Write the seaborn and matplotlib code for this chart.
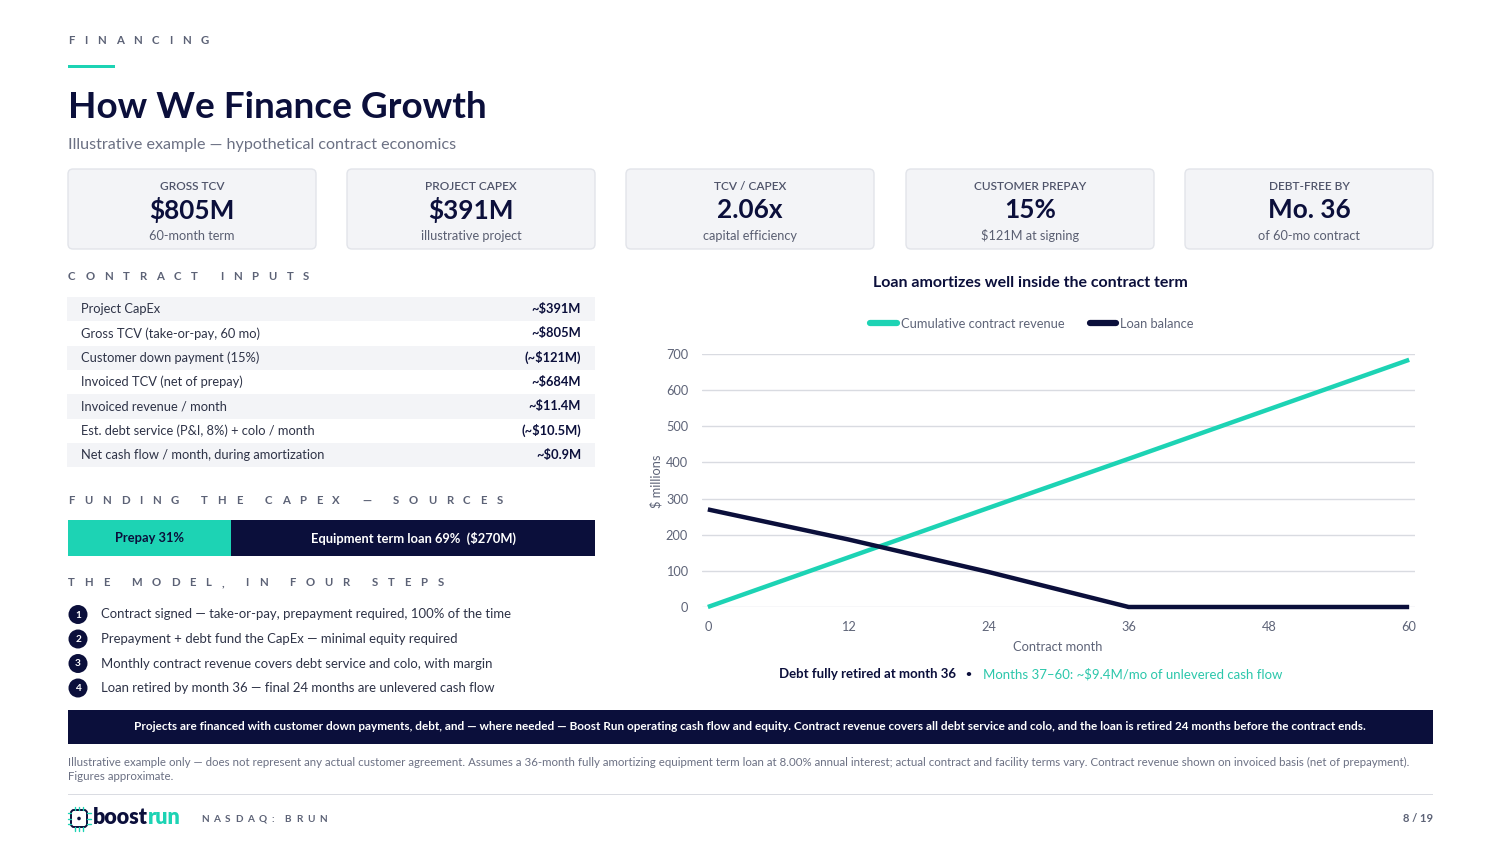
import numpy as np
import pandas as pd
import matplotlib
matplotlib.use("Agg")
import matplotlib.pyplot as plt
import seaborn as sns
from matplotlib.patches import FancyBboxPatch, Rectangle, Circle
from matplotlib.lines import Line2D
from matplotlib.font_manager import FontProperties
from matplotlib.transforms import IdentityTransform

# ---------------- data ----------------
months = [0, 12, 24, 36, 48, 60]
cum_revenue = [0, 137, 274, 410, 547, 684]
loan_balance = [270, 187, 97, 0, 0, 0]
series_names = ["Cumulative contract revenue", "Loan balance"]
y_ticks = [0, 100, 200, 300, 400, 500, 600, 700]
x_ticks = [0, 12, 24, 36, 48, 60]

kpi_labels = ["GROSS TCV", "PROJECT CAPEX", "TCV / CAPEX", "CUSTOMER PREPAY", "DEBT-FREE BY"]
kpi_values = ["$805M", "$391M", "2.06x", "15%", "Mo. 36"]
kpi_subs = ["60-month term", "illustrative project", "capital efficiency", "$121M at signing", "of 60-mo contract"]

input_labels = ["Project CapEx", "Gross TCV (take-or-pay, 60 mo)", "Customer down payment (15%)",
                "Invoiced TCV (net of prepay)", "Invoiced revenue / month",
                "Est. debt service (P&I, 8%) + colo / month", "Net cash flow / month, during amortization"]
input_values = ["~$391M", "~$805M", "(~$121M)", "~$684M", "~$11.4M", "(~$10.5M)", "~$0.9M"]

funding_labels = ["Prepay 31%", "Equipment term loan 69%  ($270M)"]
funding_shares = [31, 69]

steps = ["Contract signed \u2014 take-or-pay, prepayment required, 100% of the time",
         "Prepayment + debt fund the CapEx \u2014 minimal equity required",
         "Monthly contract revenue covers debt service and colo, with margin",
         "Loan retired by month 36 \u2014 final 24 months are unlevered cash flow"]

# ---------------- style ----------------
W, H = 1500, 843
sns.set_theme(style="white")
FAM = ["Lato", "DejaVu Sans"]
plt.rcParams['font.family'] = FAM

NAVY = "#0B0F3B"
TEAL = "#1DD3B4"
GRAY = "#5C6276"
TXT = "#2E3347"
CARD = "#F3F4F7"

fig = plt.figure(figsize=(15, 8.43), dpi=100)
renderer = fig.canvas.get_renderer()
ID = IdentityTransform()

def fx(x): return x / W
def fy(y): return 1 - y / H

def txt(x, y, s, size, color=TXT, weight="normal", ha="left", va="center", **kw):
    return fig.text(fx(x), fy(y), s, fontsize=size, color=color, fontweight=weight,
                    ha=ha, va=va, family=FAM, **kw)

def tracked(x, y, s, size, color=GRAY, track=10, weight="bold", space=0.2):
    fp = FontProperties(family=FAM, size=size, weight=weight)
    cx = x
    for ch in s:
        if ch != " ":
            fig.text(fx(cx), fy(y), ch, fontproperties=fp, color=color, va="center", ha="left")
            w, _, _ = renderer.get_text_width_height_descent(ch, fp, ismath=False)
        else:
            w = size * 1.389 * space
        cx += w + track

def rect(x0, y0, x1, y1, color, ec="none", lw=0, r=0):
    if r:
        p = FancyBboxPatch((x0, H - y1), x1 - x0, y1 - y0,
                           boxstyle=f"round,pad=0,rounding_size={r}",
                           fc=color, ec=ec, lw=lw, transform=ID)
    else:
        p = Rectangle((x0, H - y1), x1 - x0, y1 - y0, fc=color, ec=ec, lw=lw, transform=ID)
    fig.add_artist(p)

# ---------------- header ----------------
tracked(68, 41, "FINANCING", 8.2, GRAY, track=9.8)
rect(68, 65, 115, 68, TEAL)
txt(68, 108, "How We Finance Growth", 26.6, NAVY, "bold")
txt(68, 145, "Illustrative example \u2014 hypothetical contract economics", 11.6, "#6B7083")

# ---------------- KPI cards ----------------
card_x = [68, 347, 626, 906, 1185]
for i, cx in enumerate(card_x):
    rect(cx, 169, cx + 248, 249, CARD, ec="#E2E4EA", lw=1, r=5)
    mid = cx + 124
    txt(mid, 186, kpi_labels[i], 8.6, "#4F546A", "semibold", ha="center")
    txt(mid, 210, kpi_values[i], 18.8, NAVY, "bold", ha="center")
    txt(mid, 236, kpi_subs[i], 9.2, "#5A5F72", ha="center")

# ---------------- contract inputs ----------------
tracked(68, 277, "CONTRACT INPUTS", 8.2, GRAY, track=9.8)
row_h = 24.3
for i, (lab, val) in enumerate(zip(input_labels, input_values)):
    y0 = 297 + i * row_h
    if i % 2 == 0:
        rect(67, y0, 595, y0 + row_h, CARD)
    yc = y0 + row_h / 2
    txt(81, yc, lab, 9.3, TXT)
    txt(581, yc, val, 9.3, NAVY, "bold", ha="right")

# ---------------- funding bar ----------------
tracked(68, 501, "FUNDING THE CAPEX \u2014 SOURCES", 8.2, GRAY, track=9.8)
axb = fig.add_axes([fx(68), fy(556), fx(595) - fx(68), (556 - 520) / H])
left = 0
bar_colors = [TEAL, NAVY]
text_colors = [NAVY, "white"]
for lab, share, bc, tc in zip(funding_labels, funding_shares, bar_colors, text_colors):
    axb.barh([0], [share], left=[left], color=bc, height=1.0, edgecolor="none")
    axb.text(left + share / 2, 0, lab, ha="center", va="center", color=tc,
             fontsize=9.3, fontweight="bold", family=FAM)
    left += share
axb.set_xlim(0, 100)
axb.set_ylim(-0.5, 0.5)
axb.axis("off")

# ---------------- four steps ----------------
tracked(68, 583, "THE MODEL, IN FOUR STEPS", 8.2, GRAY, track=9.8)
for i, s in enumerate(steps):
    yc = 614.5 + i * 24.5
    fig.add_artist(Circle((78, H - yc), 9.5, fc=NAVY, ec="none", transform=ID))
    txt(78, yc + 0.5, str(i + 1), 7.2, "white", "bold", ha="center")
    txt(101, yc, s, 9.45, TXT)

# ---------------- chart ----------------
df = pd.DataFrame({
    "month": months * 2,
    "value": cum_revenue + loan_balance,
    "series": [series_names[0]] * len(months) + [series_names[1]] * len(months),
})
ax = fig.add_axes([fx(702), fy(607), fx(1415) - fx(702), (607 - 354) / H])
sns.lineplot(data=df, x="month", y="value", hue="series",
             palette={series_names[0]: TEAL, series_names[1]: NAVY},
             linewidth=3.2, ax=ax, legend=False)
for ln in ax.lines:
    ln.set_clip_on(False)
    ln.set_solid_capstyle("butt")
ax.set_xlim(-0.5, 60.5)
ax.set_ylim(0, 700)
ax.set_xticks(x_ticks)
ax.set_yticks(y_ticks)
ax.yaxis.grid(True, color="#D9DBE1", lw=1)
ax.set_axisbelow(True)
for sp in ax.spines.values():
    sp.set_visible(False)
ax.tick_params(axis="both", length=0, labelsize=9.2, labelcolor="#5E6478")
ax.tick_params(axis="y", pad=10)
ax.tick_params(axis="x", pad=10)
ax.set_xlabel("")
ax.set_ylabel("")
ax.set_facecolor("none")

txt(1030, 283, "Loan amortizes well inside the contract term", 11.5, NAVY, "bold", ha="center")
handles = [Line2D([0], [0], color=TEAL, lw=4.5), Line2D([0], [0], color=NAVY, lw=4.5)]
fig.legend(handles, series_names, loc="center", bbox_to_anchor=(fx(1032), fy(324)),
           ncol=2, frameon=False, fontsize=9.3, handlelength=2.05, handletextpad=0.3,
           columnspacing=2.0, labelcolor="#5E6478")
txt(656, 481, "$ millions", 9.2, "#5E6478", ha="center", rotation=90)
txt(1058, 647, "Contract month", 9.3, "#5E6478", ha="center")
txt(956, 674, "Debt fully retired at month 36", 9.5, NAVY, "bold", ha="right")
txt(968, 674, "\u2022", 7.5, NAVY, "bold", ha="center")
txt(983, 674, "Months 37\u201360: ~$9.4M/mo of unlevered cash flow", 9.5, "#2CC7AB", ha="left")

# ---------------- banner & footer ----------------
rect(68, 710, 1433, 744, NAVY)
txt(750, 727, "Projects are financed with customer down payments, debt, and \u2014 where needed \u2014 Boost Run "
    "operating cash flow and equity. Contract revenue covers all debt service and colo, and the loan is "
    "retired 24 months before the contract ends.", 8.47, "white", "bold", ha="center")
txt(68, 762, "Illustrative example only \u2014 does not represent any actual customer agreement. Assumes a "
    "36-month fully amortizing equipment term loan at 8.00% annual interest; actual contract and facility "
    "terms vary. Contract revenue shown on invoiced basis (net of prepayment).", 8.32, "#6B7083")
txt(68, 777, "Figures approximate.", 8.32, "#6B7083")
rect(68, 793.5, 1433, 794.5, "#DADCE2")

# logo
rect(71, 810, 87, 827, "white", ec=NAVY, lw=1.4, r=3)
for yy in (813, 818.5, 824):
    fig.add_artist(Line2D([67.5, 71], [H - yy, H - yy], color=TEAL, lw=1, transform=ID))
    fig.add_artist(Line2D([87, 90.5], [H - yy, H - yy], color=TEAL, lw=1, transform=ID))
for xx in (75, 79, 83):
    fig.add_artist(Line2D([xx, xx], [H - 806.5, H - 810], color=TEAL, lw=1, transform=ID))
    fig.add_artist(Line2D([xx, xx], [H - 827, H - 830.5], color=TEAL, lw=1, transform=ID))
fig.add_artist(Circle((79, H - 818.5), 1.8, fc=NAVY, ec="none", transform=ID))
t1 = txt(93, 818, "boost", 15.5, NAVY, "heavy")
t1.draw(renderer)
bb = t1.get_window_extent(renderer)
txt(bb.x1, 818, "run", 15.5, TEAL, "heavy")
tracked(201, 819, "NASDAQ: BRUN", 7.2, GRAY, track=4.6, space=0.15)
txt(1433, 819, "8 / 19", 8, GRAY, "bold", ha="right")

fig.savefig("out.png", dpi=100)
